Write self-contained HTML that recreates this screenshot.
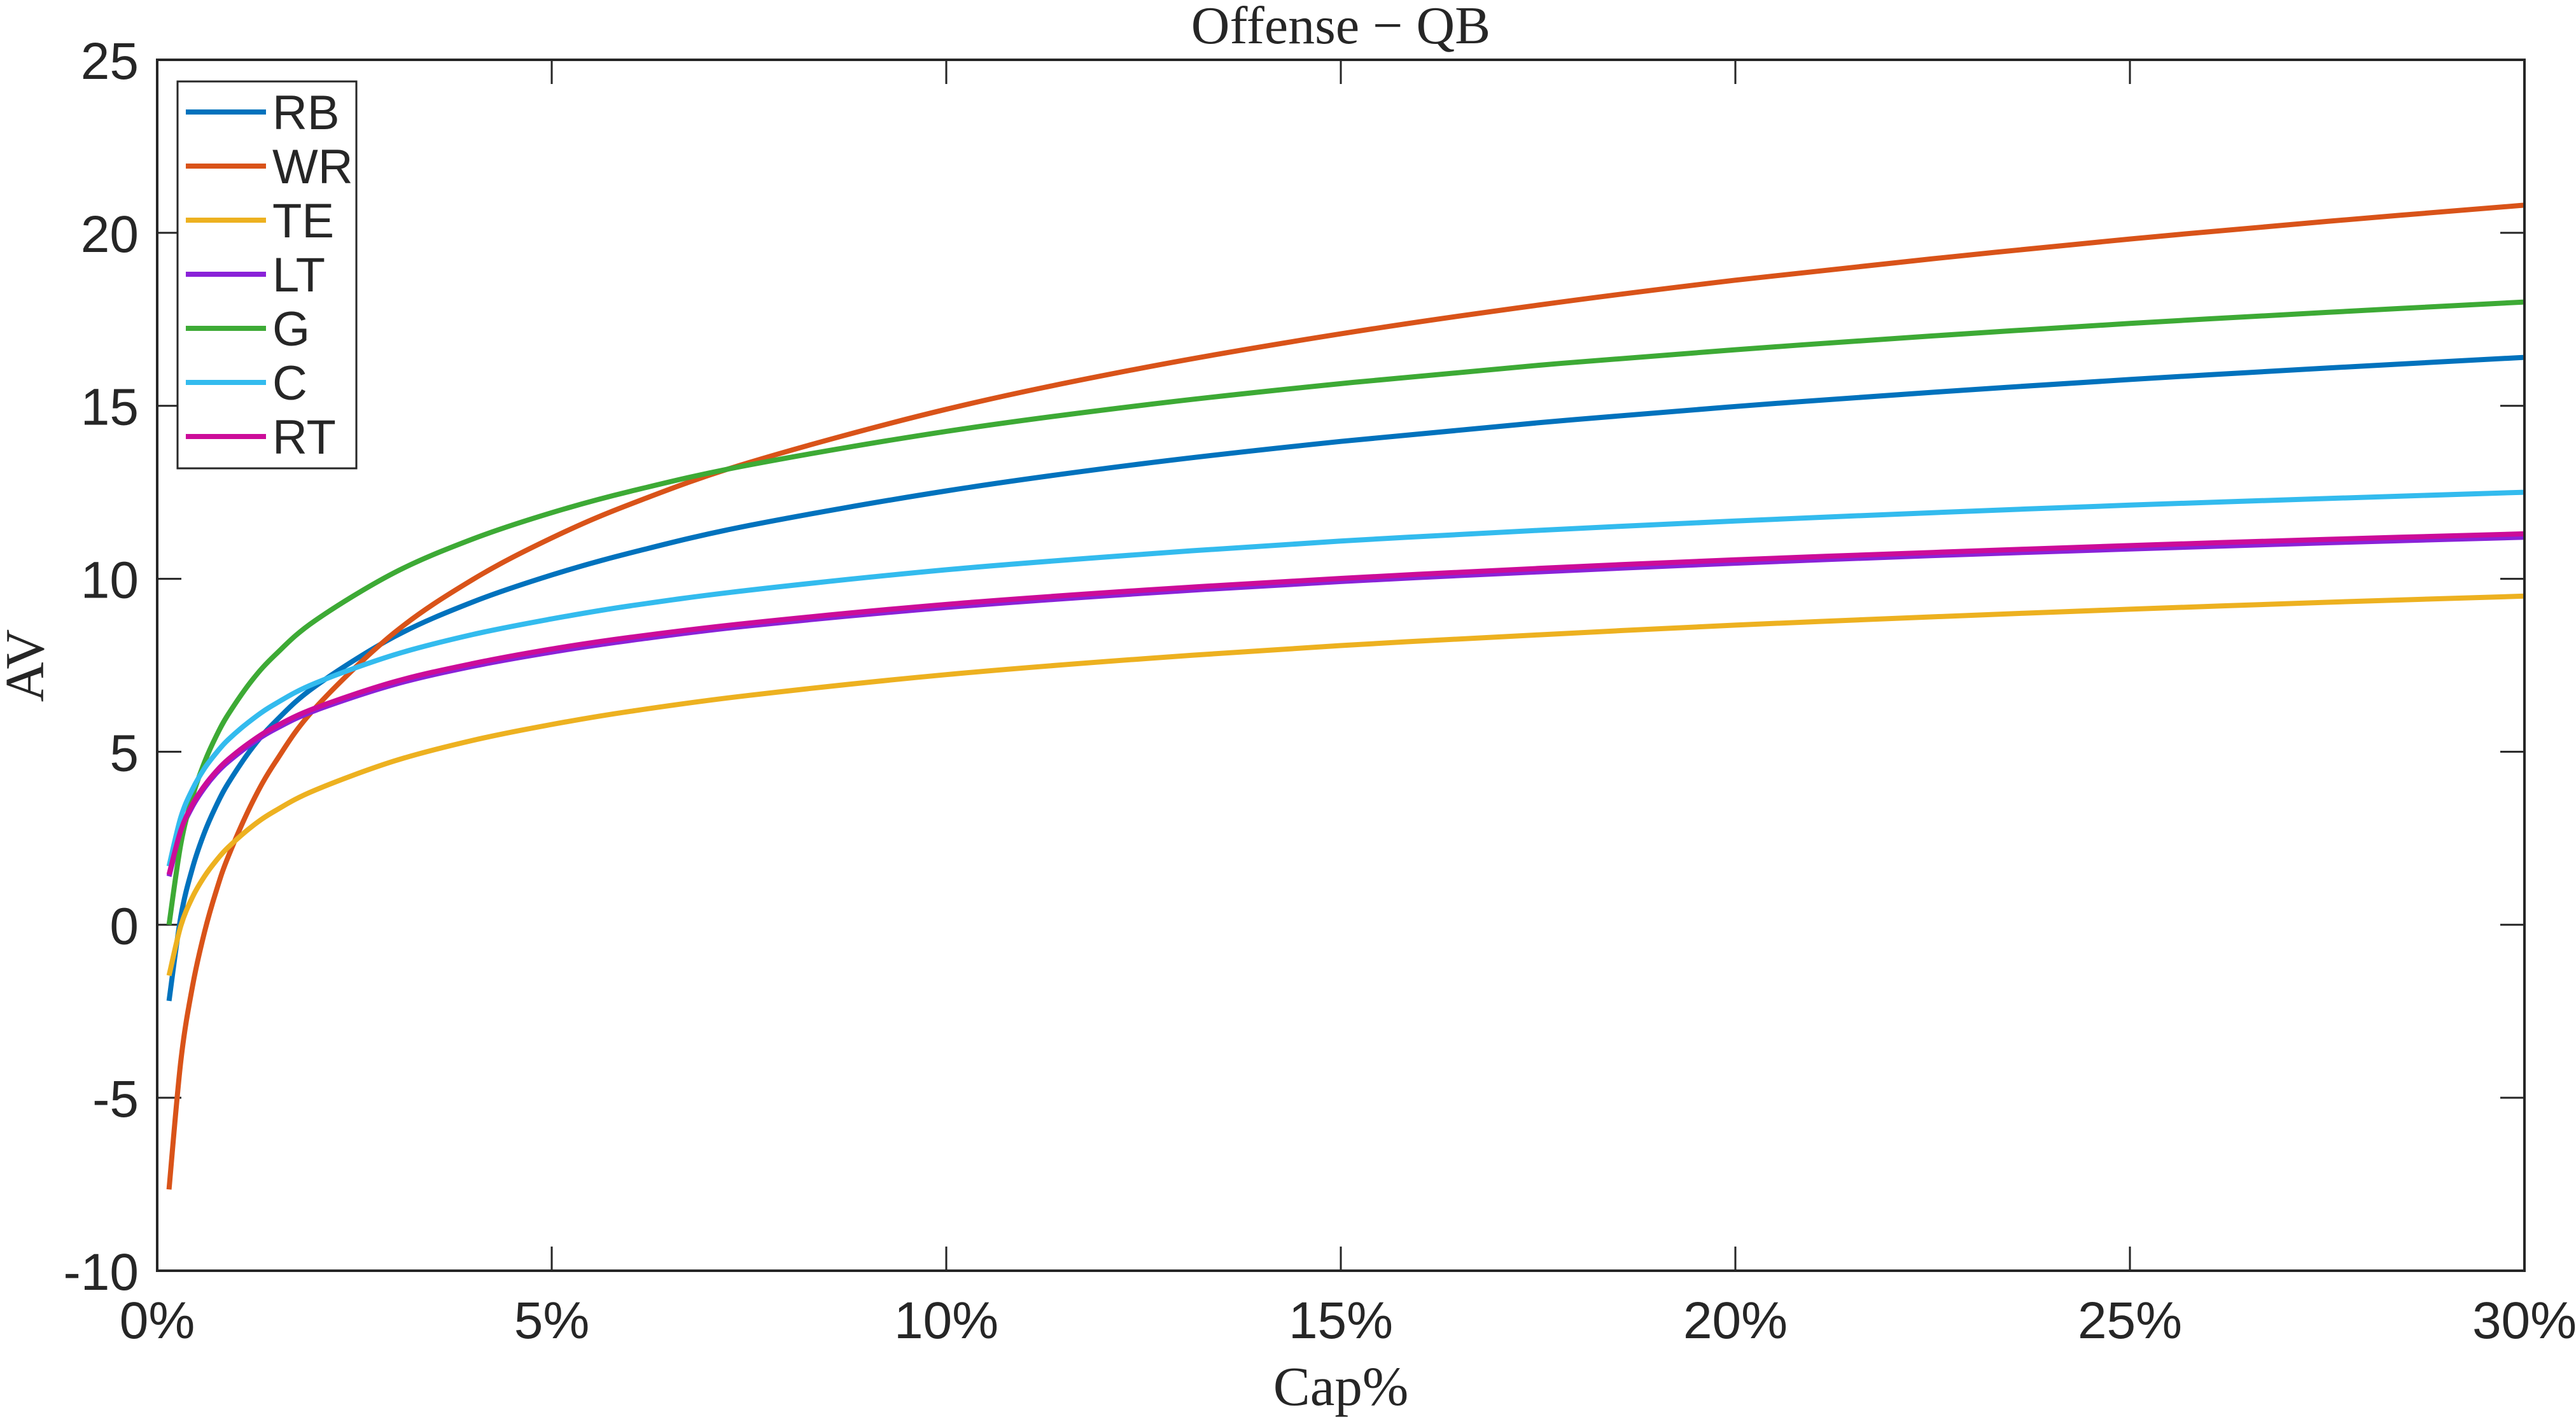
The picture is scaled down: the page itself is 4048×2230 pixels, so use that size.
<!DOCTYPE html>
<html><head><meta charset="utf-8">
<style>
html,body{margin:0;padding:0;background:#fff;}
svg{display:block;}
</style></head>
<body>
<svg id="chart" width="4048" height="2230" xmlns="http://www.w3.org/2000/svg">
  <rect x="0" y="0" width="4048" height="2230" fill="#fff"/>
  <g id="ticks"></g>
  <g id="series"></g>
  <rect x="247" y="94" width="3720" height="1903" fill="none" stroke="#262626" stroke-width="4"/>
  <text x="2107" y="68" text-anchor="middle" font-family="Liberation Serif, serif" font-size="84" fill="#262626">Offense − QB</text>
  <text x="2107" y="2208" text-anchor="middle" font-family="Liberation Serif, serif" font-size="87" fill="#262626">Cap%</text>
  <text x="0" y="0" transform="translate(68,1046) rotate(-90)" text-anchor="middle" font-family="Liberation Serif, serif" font-size="87" fill="#262626">AV</text>
  <g id="legend"></g>
</svg>
<script>
const xValues = [0.0015,0.003,0.0045,0.006,0.0075,0.009,0.012,0.015,0.02,0.03,0.04,0.05,0.06,0.075,0.1,0.125,0.15,0.175,0.2,0.225,0.25,0.275,0.3];
const seriesNames = ["RB","WR","TE","LT","G","C","RT"];
const rbValues = [-2.20,0.24,1.66,2.67,3.45,4.09,5.10,5.88,6.89,8.32,9.33,10.11,10.75,11.54,12.54,13.33,13.97,14.51,14.98,15.39,15.76,16.09,16.4];
const wrValues = [-7.65,-3.93,-1.75,-0.21,0.99,1.97,3.51,4.71,6.26,8.43,9.98,11.18,12.16,13.36,14.90,16.10,17.08,17.91,18.63,19.25,19.82,20.33,20.8];
const teValues = [-1.47,-0.03,0.81,1.40,1.86,2.24,2.84,3.30,3.89,4.73,5.33,5.79,6.17,6.63,7.23,7.69,8.07,8.38,8.66,8.90,9.12,9.32,9.5];
const ltValues = [1.40,2.68,3.43,3.96,4.38,4.71,5.24,5.66,6.19,6.94,7.47,7.88,8.22,8.64,9.17,9.58,9.92,10.20,10.45,10.67,10.86,11.04,11.2];
const gValues = [0.0,2.34,3.72,4.70,5.46,6.08,7.06,7.81,8.79,10.17,11.15,11.91,12.53,13.29,14.26,15.02,15.64,16.17,16.62,17.02,17.38,17.70,18.0];
const cValues = [1.69,3.11,3.93,4.52,4.97,5.35,5.93,6.39,6.98,7.80,8.39,8.84,9.22,9.67,10.26,10.71,11.09,11.40,11.67,11.91,12.13,12.32,12.5];
const rtValues = [1.45,2.73,3.49,4.02,4.44,4.78,5.31,5.73,6.26,7.02,7.55,7.97,8.31,8.72,9.26,9.67,10.01,10.30,10.55,10.76,10.96,11.14,11.3];
const xTickValues = [0,0.05,0.1,0.15,0.2,0.25,0.3];
const xTickLabels = ["0%","5%","10%","15%","20%","25%","30%"];
const yTickValues = [-10,-5,0,5,10,15,20,25];
const yTickLabels = ["-10","-5","0","5","10","15","20","25"];

const NS = "http://www.w3.org/2000/svg";
const L = 247, R = 3967, T = 94, B = 1997;
const xMin = 0, xMax = 0.3, yMin = -10, yMax = 25;
function sx(v){ return L + (v - xMin) / (xMax - xMin) * (R - L); }
function sy(v){ return B - (v - yMin) / (yMax - yMin) * (B - T); }
function mk(tag, attrs, parent){ const e = document.createElementNS(NS, tag); for (const k in attrs) e.setAttribute(k, attrs[k]); parent.appendChild(e); return e; }

const ticks = document.getElementById("ticks");
const TL = 38;
xTickValues.forEach((v, i) => {
  const x = sx(v);
  const t1 = mk("line", {x1:x, y1:B, x2:x, y2:B-TL, stroke:"#262626", "stroke-width":3}, ticks);
  
  
  const t2 = mk("line", {x1:x, y1:T, x2:x, y2:T+TL, stroke:"#262626", "stroke-width":3}, ticks);
  
  
  const lb = mk("text", {x:x, y:2103, "text-anchor":"middle", "font-family":"Liberation Sans, sans-serif", "font-size":82, fill:"#262626"}, ticks);
  lb.textContent = xTickLabels[i];
  
  
});
yTickValues.forEach((v, i) => {
  const y = sy(v);
  const t1 = mk("line", {x1:L, y1:y, x2:L+TL, y2:y, stroke:"#262626", "stroke-width":3}, ticks);
  
  
  const t2 = mk("line", {x1:R, y1:y, x2:R-TL, y2:y, stroke:"#262626", "stroke-width":3}, ticks);
  
  
  const lb = mk("text", {x:218, y:y+30, "text-anchor":"end", "font-family":"Liberation Sans, sans-serif", "font-size":82, fill:"#262626"}, ticks);
  lb.textContent = yTickLabels[i];
  
  
});

function smoothPath(pts){
  let d = "M" + pts[0][0].toFixed(1) + "," + pts[0][1].toFixed(1);
  for (let i = 0; i < pts.length - 1; i++){
    const p0 = pts[Math.max(0, i-1)], p1 = pts[i], p2 = pts[i+1], p3 = pts[Math.min(pts.length-1, i+2)];
    const c1x = p1[0] + (p2[0]-p0[0])/6, c1y = p1[1] + (p2[1]-p0[1])/6;
    const c2x = p2[0] - (p3[0]-p1[0])/6, c2y = p2[1] - (p3[1]-p1[1])/6;
    d += " C" + c1x.toFixed(1) + "," + c1y.toFixed(1) + " " + c2x.toFixed(1) + "," + c2y.toFixed(1) + " " + p2[0].toFixed(1) + "," + p2[1].toFixed(1);
  }
  return d;
}

const seriesData = [rbValues, wrValues, teValues, ltValues, gValues, cValues, rtValues];
const colors = ["#0072BD","#D95319","#EDB120","#8A22D8","#3DAA35","#33BBEE","#CC0C99"];
const sg = document.getElementById("series");
seriesData.forEach((vals, si) => {
  const pts = vals.map((v, i) => [sx(xValues[i]), sy(v)]);
  const pl = mk("path", {d:smoothPath(pts), fill:"none", stroke:colors[si], "stroke-width":8, "stroke-linejoin":"round"}, sg);
  
  
});

const lg = document.getElementById("legend");
const box = mk("rect", {x:279, y:128, width:281, height:608, fill:"#fff", stroke:"#262626", "stroke-width":3}, lg);


seriesNames.forEach((n, i) => {
  const y = 176 + i * 85;
  const ln = mk("line", {x1:292, y1:y, x2:418, y2:y, stroke:colors[i], "stroke-width":8}, lg);
  
  
  const tx = mk("text", {x:428, y:y+27, "font-family":"Liberation Sans, sans-serif", "font-size":76, fill:"#262626"}, lg);
  tx.textContent = n;
  
  
});
</script>
</body></html>
